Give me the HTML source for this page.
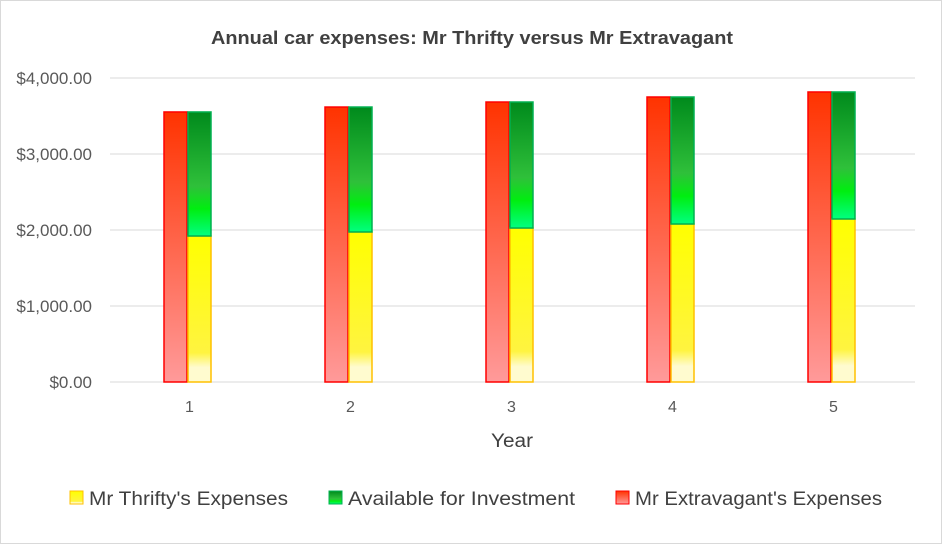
<!DOCTYPE html>
<html><head><meta charset="utf-8"><style>
html,body{margin:0;padding:0;background:#fff}
svg{display:block;font-family:"Liberation Sans","DejaVu Sans",sans-serif}
</style></head><body>
<svg id="chart" width="942" height="544" viewBox="0 0 942 544">
<defs>
<linearGradient id="gRed" x1="0" y1="0" x2="0" y2="1"><stop offset="0" stop-color="#ff3300"/><stop offset="1" stop-color="#ff9a9a"/></linearGradient>
<linearGradient id="gGreen" x1="0" y1="0" x2="0" y2="1"><stop offset="0" stop-color="#008a1c"/><stop offset="0.6" stop-color="#2fc03a"/><stop offset="0.78" stop-color="#00ee10"/><stop offset="1" stop-color="#00ff80"/></linearGradient>
<linearGradient id="gYellow" x1="0" y1="0" x2="0" y2="1"><stop offset="0" stop-color="#ffff00"/><stop offset="0.8" stop-color="#fff440"/><stop offset="0.9" stop-color="#fffbcf"/><stop offset="1" stop-color="#fffbcf"/></linearGradient>
</defs>
<rect x="0.5" y="0.5" width="941" height="543" fill="#fff" stroke="#d9d9d9"/>
<text x="211" y="44" textLength="522" lengthAdjust="spacingAndGlyphs" font-size="18" font-weight="bold" fill="#404040">Annual car expenses: Mr Thrifty versus Mr Extravagant</text>
<g id="grid"></g><g id="bars"></g><g id="labels"></g>
<text x="491" y="447" textLength="42" lengthAdjust="spacingAndGlyphs" font-size="19" fill="#404040">Year</text>
<g>
<g><rect x="70" y="491" width="13" height="13" fill="url(#gYellow)" stroke="#ffc000"/><text x="89" y="505" textLength="199" lengthAdjust="spacingAndGlyphs" font-size="19" fill="#404040">Mr Thrifty's Expenses</text></g>
<g><rect x="329" y="491" width="13" height="13" fill="url(#gGreen)" stroke="#00b050"/><text x="348" y="505" textLength="227" lengthAdjust="spacingAndGlyphs" font-size="19" fill="#404040">Available for Investment</text></g>
<g><rect x="616" y="491" width="13" height="13" fill="url(#gRed)" stroke="#ff0000"/><text x="635" y="505" textLength="247" lengthAdjust="spacingAndGlyphs" font-size="19" fill="#404040">Mr Extravagant's Expenses</text></g>
</g>
</svg>
<script>
const categories = ["1","2","3","4","5"];
const extravagant = [3553, 3618, 3684, 3750, 3816];
const thrifty = [1921, 1974, 2026, 2079, 2145];
const investment = [1632, 1644, 1658, 1671, 1671];
const yTicks = [0, 1000, 2000, 3000, 4000];
const yTickLabels = ["$0.00","$1,000.00","$2,000.00","$3,000.00","$4,000.00"];

const NS = "http://www.w3.org/2000/svg";
const plotL = 107, plotR = 912, y0 = 382, yTop = 78, yMax = 4000;
function yScale(v){ return y0 - (v / yMax) * (y0 - yTop); }
const band = (plotR - plotL) / categories.length;
function xCenter(i){ return plotL + band * (i + 0.5); }
function mk(tag, attrs, parent){ const e = document.createElementNS(NS, tag); for (const k in attrs) e.setAttribute(k, attrs[k]); parent.appendChild(e); return e; }
const grid = document.getElementById('grid'), bars = document.getElementById('bars'), labels = document.getElementById('labels');
yTicks.forEach((t, i) => {
  const y = yScale(t);
  const l = mk('line', {x1: 110, x2: 915, y1: y, y2: y, stroke: '#d9d9d9', 'stroke-width': 1}, grid);
  
  
  const tx = mk('text', {x: 92, y: y + 6, 'text-anchor': 'end', 'font-size': 17, fill: '#595959'}, labels);
  tx.textContent = yTickLabels[i];
  
  
});
const bw = 23;
categories.forEach((c, i) => {
  const cx = xCenter(i);
  const r = mk('rect', {x: cx - bw - 0.5, y: yScale(extravagant[i]), width: bw, height: y0 - yScale(extravagant[i]), fill: 'url(#gRed)', stroke: '#ff0000', 'stroke-width': 1.5}, bars);
  
  
  const yt = yScale(thrifty[i]);
  const yb = mk('rect', {x: cx + 0.5, y: yt, width: bw, height: y0 - yt, fill: 'url(#gYellow)', stroke: '#ffc000', 'stroke-width': 1.5}, bars);
  
  
  const yg = yScale(thrifty[i] + investment[i]);
  const g = mk('rect', {x: cx + 0.5, y: yg, width: bw, height: yt - yg, fill: 'url(#gGreen)', stroke: '#00b050', 'stroke-width': 1.5}, bars);
  
  
  const tx = mk('text', {x: cx + 2, y: 412, 'text-anchor': 'middle', 'font-size': 16, fill: '#595959'}, labels);
  tx.textContent = c;
  
  
});
</script>
</body></html>
